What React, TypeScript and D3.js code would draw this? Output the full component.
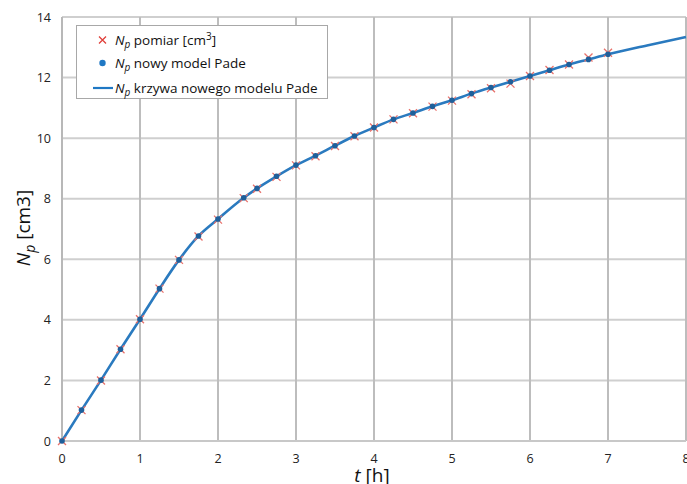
import React from "react";
import * as d3 from "d3";

const tValues = [0, 0.25, 0.5, 0.75, 1, 1.25, 1.5, 1.75, 2, 2.33, 2.5, 2.75, 3, 3.25, 3.5, 3.75, 4, 4.25, 4.5, 4.75, 5, 5.25, 5.5, 5.75, 6, 6.25, 6.5, 6.75, 7];
const modelValues = [0, 1.02, 2.01, 3.03, 4.02, 5.03, 5.98, 6.77, 7.33, 8.03, 8.34, 8.74, 9.11, 9.42, 9.75, 10.07, 10.35, 10.62, 10.83, 11.05, 11.25, 11.47, 11.67, 11.86, 12.05, 12.24, 12.43, 12.6, 12.77];
const measuredValues = [0, 1.02, 2.0, 3.03, 4.02, 5.03, 5.98, 6.75, 7.31, 8.02, 8.33, 8.72, 9.1, 9.4, 9.74, 10.06, 10.35, 10.62, 10.82, 11.04, 11.24, 11.45, 11.65, 11.8, 12.05, 12.25, 12.43, 12.66, 12.82];
const curveT = [0, 0.25, 0.5, 0.75, 1, 1.25, 1.5, 1.75, 2, 2.33, 2.5, 2.75, 3, 3.25, 3.5, 3.75, 4, 4.25, 4.5, 4.75, 5, 5.25, 5.5, 5.75, 6, 6.25, 6.5, 6.75, 7, 7.5, 8];
const curveValues = [0, 1.02, 2.01, 3.03, 4.02, 5.03, 5.98, 6.77, 7.33, 8.03, 8.34, 8.74, 9.11, 9.42, 9.75, 10.07, 10.35, 10.62, 10.83, 11.05, 11.25, 11.47, 11.67, 11.86, 12.05, 12.24, 12.43, 12.6, 12.77, 13.06, 13.34];
const xTicks = [0, 1, 2, 3, 4, 5, 6, 7, 8];
const yTicks = [0, 2, 4, 6, 8, 10, 12, 14];

const W = 687, H = 484;
const L = 62, R = 686, T = 17, B = 441;
const FONT = "'Open Sans', 'Noto Sans', sans-serif";

export default function App() {
  const x = d3.scaleLinear().domain([0, 8]).range([L, R]);
  const y = d3.scaleLinear().domain([0, 14]).range([B, T]);
  const line = d3.line<number>().x((_, i) => x(curveT[i])).y((d) => y(d)).curve(d3.curveMonotoneX);
  const red = "#e8706a";
  const blue = "#2a7abf";
  const xMark = (cx: number, cy: number, s: number, key: any, color: string) => (
    <path key={key} d={`M${cx - s},${cy - s}L${cx + s},${cy + s}M${cx - s},${cy + s}L${cx + s},${cy - s}`} stroke={color} strokeWidth={1.3} fill="none" />
  );
  return (
    <svg width={W} height={H} style={{ position: "absolute", left: 0, top: 0, background: "#fff" }} fontFamily={FONT}>
      <rect width={W} height={H} fill="#fff" />
      {yTicks.map((v) => (
        <line key={"gy" + v} x1={L} x2={R} y1={y(v)} y2={y(v)} stroke="#cfcfcf" strokeWidth={2} />
      ))}
      {xTicks.map((v) => (
        <line key={"gx" + v} x1={x(v)} x2={x(v)} y1={T} y2={B} stroke="#bdbdbd" strokeWidth={2} />
      ))}
      <line x1={L} x2={L} y1={T} y2={B} stroke="#b8b8b8" strokeWidth={2} />
      <line x1={L} x2={R} y1={B} y2={B} stroke="#c8c8c8" strokeWidth={2} />
      {yTicks.map((v) => (
        <text key={"ty" + v} x={L - 11} y={y(v) + 4.5} textAnchor="end" fontSize={12.5} fill="#222">{v}</text>
      ))}
      {xTicks.map((v) => (
        <text key={"tx" + v} x={x(v)} y={B + 22} textAnchor="middle" fontSize={12.5} fill="#222">{v}</text>
      ))}
      <text x={372} y={482} textAnchor="middle" fontSize={19} fill="#111">
        <tspan fontStyle="italic">t</tspan> [h]
      </text>
      <text transform={`translate(30,${228}) rotate(-90)`} textAnchor="middle" fontSize={19} fill="#111">
        <tspan fontStyle="italic">N</tspan><tspan fontStyle="italic" fontSize={14} dy={5}>p</tspan><tspan dy={-5}> [cm3]</tspan>
      </text>
      <path d={line(curveValues) || ""} fill="none" stroke={blue} strokeWidth={2.6} />
      {measuredValues.map((v, i) => xMark(x(tValues[i]), y(v), 4, "m" + i, red))}
      {modelValues.map((v, i) => (
        <circle key={"c" + i} cx={x(tValues[i])} cy={y(v)} r={2.8} fill="#1f5f9a" />
      ))}
      <g>
        <rect x={76.5} y={25.5} width={251} height={73} fill="#fff" stroke="#a8a8a8" strokeWidth={1} />
        {xMark(102.5, 40, 3.5, "lg1", "#e0403a")}
        <circle cx={102.5} cy={63} r={3.2} fill="#1f78c4" />
        <line x1={93} x2={113} y1={88} y2={88} stroke="#1f78c4" strokeWidth={2.2} />
        <text x={115} y={45} fontSize={13.5} fill="#111">
          <tspan fontStyle="italic">N</tspan><tspan fontStyle="italic" fontSize={10} dy={3}>p</tspan><tspan dy={-3}> pomiar [cm</tspan><tspan fontSize={10} dy={-5}>3</tspan><tspan dy={5}>]</tspan>
        </text>
        <text x={115} y={68} fontSize={13.5} fill="#111">
          <tspan fontStyle="italic">N</tspan><tspan fontStyle="italic" fontSize={10} dy={3}>p</tspan><tspan dy={-3}> nowy model Pade</tspan>
        </text>
        <text x={115} y={93} fontSize={13.5} fill="#111">
          <tspan fontStyle="italic">N</tspan><tspan fontStyle="italic" fontSize={10} dy={3}>p</tspan><tspan dy={-3}> krzywa nowego modelu Pade</tspan>
        </text>
      </g>
    </svg>
  );
}
